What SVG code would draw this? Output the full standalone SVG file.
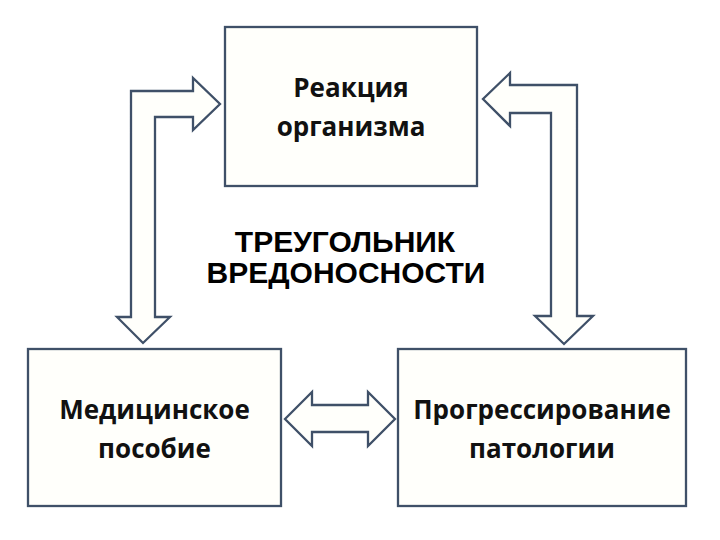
<svg xmlns="http://www.w3.org/2000/svg" width="720" height="540" viewBox="0 0 720 540">
<style>
.box{fill:#fffffb;stroke:#3f5068;stroke-width:2.3}
.arr{fill:#fffffb;stroke:#3f5068;stroke-width:2.3;stroke-linejoin:miter}
.lbl{font-family:"Open Sans","Noto Sans","Liberation Sans",sans-serif;font-weight:bold;font-size:26px;fill:#111;text-anchor:middle}
.ttl{font-family:"Liberation Sans",Arial,sans-serif;font-weight:bold;font-size:30px;fill:#000;text-anchor:middle}
</style>
<rect width="720" height="540" fill="#ffffff"/>
<g id="connectors">
<path class="arr" d="M131,91 L193,91 L193,78 L220,104 L193,130 L193,117 L155,117 L155,317 L170,317 L143,343 L117,317 L131,317 Z"/>
<path class="arr" d="M577,85 L510,85 L510,73 L483,99 L510,126 L510,113 L551,113 L551,316 L535,316 L564,344 L593,316 L577,316 Z"/>
<path class="arr" d="M285,419 L312,392 L312,405 L368,405 L368,392 L395,419 L368,446 L368,432 L312,432 L312,446 Z"/>
</g>
<g id="node-reaction">
<rect class="box" x="225" y="27" width="252" height="159"/>
<text class="lbl" x="351" y="97">Реакция</text>
<text class="lbl" x="351" y="136">организма</text>
</g>
<g id="node-medical">
<rect class="box" x="28" y="349" width="253" height="157"/>
<text class="lbl" x="154.5" y="419">Медицинское</text>
<text class="lbl" x="154.5" y="458">пособие</text>
</g>
<g id="node-progress">
<rect class="box" x="398" y="349" width="288" height="157"/>
<text class="lbl" x="542" y="419">Прогрессирование</text>
<text class="lbl" x="542" y="458">патологии</text>
</g>
<g id="title">
<text class="ttl" x="345" y="252">ТРЕУГОЛЬНИК</text>
<text class="ttl" x="346" y="283">ВРЕДОНОСНОСТИ</text>
</g>
</svg>
